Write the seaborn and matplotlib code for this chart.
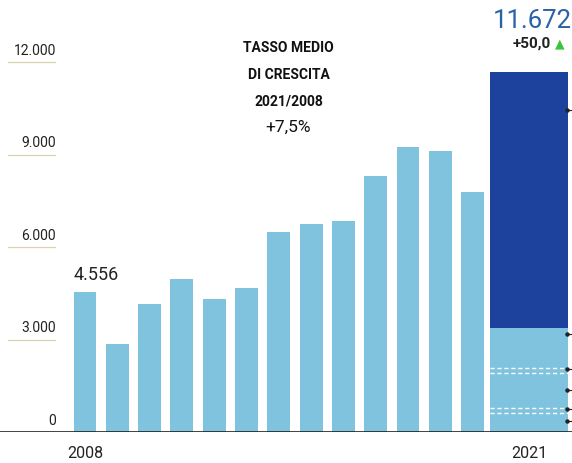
import matplotlib
matplotlib.use("Agg")
import matplotlib.pyplot as plt
import matplotlib.transforms as mtransforms
import seaborn as sns
import pandas as pd

# ---- data ----
years = [str(y) for y in range(2008, 2022)]
values = [4556, 2850, 4150, 4950, 4300, 4670, 6500, 6750, 6850, 8300, 9250, 9100, 7800, 11672]
base_2021 = 3373          # light lower part of the 2021 bar
segment_lines = [2076, 1914, 778, 616]   # white dashed separators inside 2021 bar
leader_marks = [10443, 3178, 2043, 1362, 746, 357]
tick_values = [0, 3000, 6000, 9000, 12000]
tick_labels = ["0", "3.000", "6.000", "9.000", "12.000"]
first_label = "4.556"
last_label = "11.672"
change_label = "+50,0"
note_lines = ["TASSO MEDIO", "DI CRESCITA", "2021/2008"]
note_value = "+7,5%"

LIGHT = "#7fc3de"
DARK = "#1c429e"

sns.set_theme(style="white")
plt.rcParams["font.family"] = ["Roboto", "DejaVu Sans"]

fig = plt.figure(figsize=(5.72, 4.63), dpi=100)
ax = fig.add_axes([0, 31 / 463, 1, 1 - 31 / 463])

df = pd.DataFrame({"year": years, "value": values})
colors = [LIGHT] * (len(years) - 1) + [DARK]
sns.barplot(data=df, x="year", y="value", hue="year", palette=colors,
            legend=False, width=0.71, saturation=1, ax=ax, linewidth=0)

# widen the final (2021) bar
patches = ax.patches
prev = patches[-2]
last = patches[-1]
prev_center = prev.get_x() + prev.get_width() / 2
left = prev_center + 0.53
last.set_x(left)
last.set_width(2.43)

# light base of 2021 bar (stacked)
df_base = pd.DataFrame({"year": [years[-1]], "value": [base_2021]})
sns.barplot(data=df_base, x="year", y="value", color=LIGHT, saturation=1,
            width=0.71, ax=ax, linewidth=0, order=years)
base_patch = ax.patches[-1]
base_patch.set_x(left)
base_patch.set_width(2.43)

right = left + 2.43
for v in segment_lines:
    ax.plot([left, right], [v, v], color="white", lw=1.0, ls=(0, (3, 2)), zorder=5)
for v in leader_marks:
    ax.plot([right - 0.05, right + 0.5], [v, v], color="#222222", lw=0.8, zorder=5, clip_on=False)
    ax.plot([right - 0.05], [v], marker="o", ms=2.2, color="#222222", zorder=6, clip_on=False)

# axes limits (x: 0 px -> left edge, 572 px -> right)
unit = 32.3
ax.set_xlim(-85 / unit, (572 - 85) / unit)
ax.set_ylim(0, 432 / 370 * 12000)
ax.set_xlabel("")
ax.set_ylabel("")
ax.set_xticks([])
ax.set_yticks([])
for s in ax.spines.values():
    s.set_visible(False)

# baseline
ax.axhline(0, color="#222222", lw=1.2, zorder=4)

# y tick labels with short underlines
trans = mtransforms.blended_transform_factory(ax.transAxes, ax.transData)
for v, lab in zip(tick_values, tick_labels):
    if v > 0:
        ax.plot([8 / 572, 55 / 572], [v, v], color="#d9d2b0", lw=0.9, transform=trans, clip_on=False)
    ax.text(56 / 572, v + 130, lab, transform=trans, ha="right", va="bottom",
            fontsize=10, color="#222222")

# value labels
ax.text(patches[0].get_x(), values[0] + 250, first_label, ha="left", va="bottom",
        fontsize=13, color="#222222")
ax.text(right + 0.12, values[-1] + 1280, last_label, ha="right", va="bottom",
        fontsize=18.5, color="#2a62a8")
ax.text(right - 0.55, values[-1] + 700, change_label, ha="right", va="bottom",
        fontsize=11, fontweight="bold", color="#222222")
ax.text(right - 0.1, values[-1] + 720, "\u25B2", ha="right", va="bottom",
        fontsize=9, color="#3cc43c", family=["DejaVu Sans"])

# note
note_x = 6.3
note_y = [12454, 11578, 10703]
for yv, line in zip(note_y, note_lines):
    ax.text(note_x, yv, line, ha="center", va="center",
            fontsize=10, fontweight="bold", color="#111111")
ax.text(note_x, 9892, note_value, ha="center", va="center", fontsize=12.5, color="#111111")

# x labels
ax.text(0, -690, years[0], ha="center", va="center", fontsize=11.5, color="#222222", clip_on=False)
ax.text((left + right) / 2, -690, years[-1], ha="center", va="center", fontsize=11.5,
        color="#222222", clip_on=False)

fig.savefig("out.png", dpi=100)
